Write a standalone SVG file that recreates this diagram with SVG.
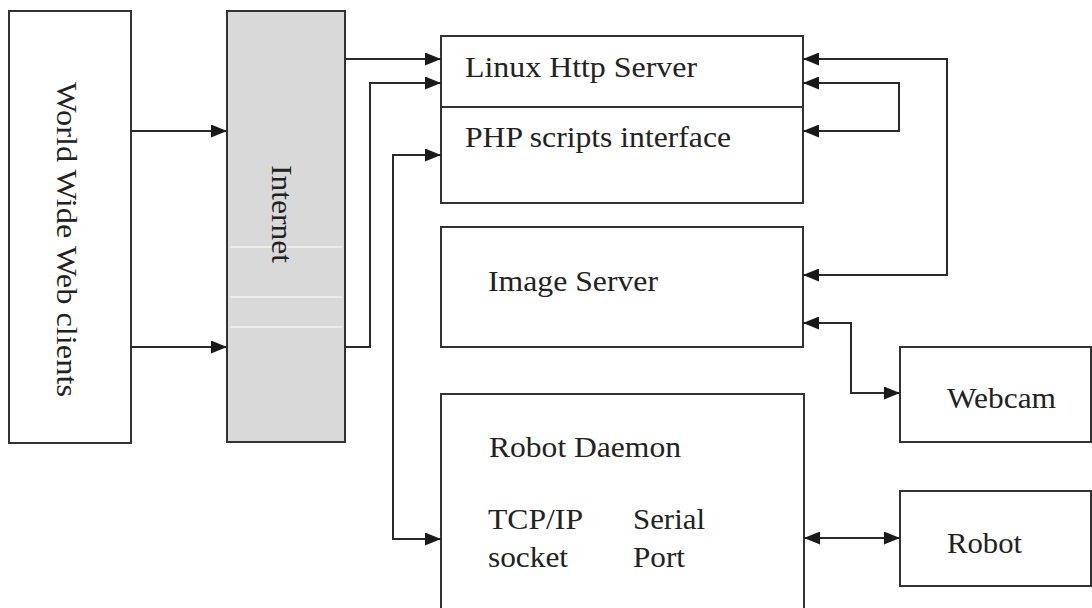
<svg xmlns="http://www.w3.org/2000/svg" width="1092" height="608" viewBox="0 0 1092 608">
<defs>
<style>
.box{fill:#fff;stroke:#333;stroke-width:2}
.net{fill:#d9d9d9;stroke:#333;stroke-width:2}
.t{font-family:"Liberation Serif","Times New Roman",serif;font-size:29px;fill:#222}
.c{fill:none;stroke:#2a2a2a;stroke-width:2}
</style>
<marker id="ah" viewBox="0 0 10 10" refX="10" refY="5" markerWidth="16" markerHeight="13" markerUnits="userSpaceOnUse" orient="auto-start-reverse" preserveAspectRatio="none">
<path d="M0,0 L10,5 L0,10 z" fill="#1a1a1a"/>
</marker>
</defs>
<rect width="1092" height="608" fill="#fff"/>
<g id="www">
<rect class="box" x="9" y="11" width="122" height="432"/>
<text class="t" transform="translate(57,82) rotate(90)" textLength="315" lengthAdjust="spacingAndGlyphs">World Wide Web clients</text>
</g>
<g id="internet">
<rect class="net" x="227" y="11" width="118" height="431"/>
<g stroke="#ebebeb" stroke-width="2"><line x1="230" y1="247" x2="342" y2="247"/><line x1="230" y1="297" x2="342" y2="297"/><line x1="230" y1="327" x2="342" y2="327"/></g>
<text class="t" transform="translate(272,165) rotate(90)" textLength="98" lengthAdjust="spacingAndGlyphs">Internet</text>
</g>
<g id="http">
<rect class="box" x="441" y="36" width="362" height="167"/>
<line x1="441" y1="107" x2="803" y2="107" stroke="#333" stroke-width="2"/>
<text class="t" x="465" y="77" textLength="232" lengthAdjust="spacingAndGlyphs">Linux Http Server</text>
<text class="t" x="465" y="147" textLength="266" lengthAdjust="spacingAndGlyphs">PHP scripts interface</text>
</g>
<g id="image">
<rect class="box" x="441" y="227" width="362" height="120"/>
<text class="t" x="488" y="291" textLength="170" lengthAdjust="spacingAndGlyphs">Image Server</text>
</g>
<g id="daemon">
<rect class="box" x="441" y="394" width="363" height="230"/>
<text class="t" x="489" y="457" textLength="192" lengthAdjust="spacingAndGlyphs">Robot Daemon</text>
<text class="t" x="488" y="529" textLength="95" lengthAdjust="spacingAndGlyphs">TCP/IP</text>
<text class="t" x="488" y="567" textLength="80" lengthAdjust="spacingAndGlyphs">socket</text>
<text class="t" x="633" y="529" textLength="72" lengthAdjust="spacingAndGlyphs">Serial</text>
<text class="t" x="633" y="567" textLength="52" lengthAdjust="spacingAndGlyphs">Port</text>
</g>
<g id="webcam">
<rect class="box" x="900" y="347" width="191" height="95"/>
<text class="t" x="947" y="408" textLength="109" lengthAdjust="spacingAndGlyphs">Webcam</text>
</g>
<g id="robot">
<rect class="box" x="900" y="491" width="191" height="95"/>
<text class="t" x="947" y="553" textLength="75" lengthAdjust="spacingAndGlyphs">Robot</text>
</g>
<g id="connectors">
<path class="c" d="M131,131 H227" marker-end="url(#ah)"/>
<path class="c" d="M131,347 H227" marker-end="url(#ah)"/>
<path class="c" d="M345,59 H441" marker-end="url(#ah)"/>
<path class="c" d="M345,347 H370 V83 H441" marker-end="url(#ah)"/>
<path class="c" d="M441,155 H393 V539 H441" marker-start="url(#ah)" marker-end="url(#ah)"/>
<path class="c" d="M803,59 H947 V275 H803" marker-start="url(#ah)" marker-end="url(#ah)"/>
<path class="c" d="M803,83 H899 V131 H803" marker-start="url(#ah)" marker-end="url(#ah)"/>
<path class="c" d="M803,323 H851 V393 H900" marker-start="url(#ah)" marker-end="url(#ah)"/>
<path class="c" d="M804,538 H900" marker-start="url(#ah)" marker-end="url(#ah)"/>
</g>
</svg>
